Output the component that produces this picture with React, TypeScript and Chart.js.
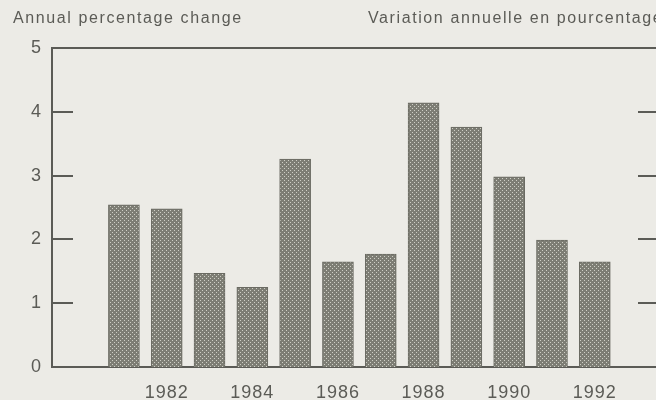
import React, { useEffect, useRef } from "react";
import { Chart, registerables } from "chart.js";

Chart.register(...registerables);

const years = [1981, 1982, 1983, 1984, 1985, 1986, 1987, 1988, 1989, 1990, 1991, 1992];
const values = [2.54, 2.48, 1.47, 1.25, 3.26, 1.65, 1.77, 4.14, 3.76, 2.98, 1.99, 1.65];
const xTickYears = [1982, 1984, 1986, 1988, 1990, 1992];
const yTickValues = [0, 1, 2, 3, 4, 5];
const innerTickValues = [1, 2, 3, 4];
const leftTitle = "Annual percentage change";
const rightTitle = "Variation annuelle en pourcentage";

const BG = "#ecebe6";
const INK = "#5b5b56";
const FONT = "'Liberation Sans', Arial, sans-serif";

function makePattern(): CanvasPattern | string {
  const c = document.createElement("canvas");
  c.width = 4;
  c.height = 4;
  const g = c.getContext("2d");
  if (!g) return "#7d7d74";
  g.fillStyle = "#7d7d74";
  g.fillRect(0, 0, 4, 4);
  g.fillStyle = "#cfcfc6";
  g.fillRect(0, 0, 1, 1);
  g.fillRect(2, 2, 1, 1);
  const p = g.createPattern(c, "repeat");
  return p || "#7d7d74";
}

export default function App() {
  const ref = useRef<HTMLCanvasElement | null>(null);

  useEffect(() => {
    if (!ref.current) return;
    const pattern = makePattern();

    const framePlugin = {
      id: "frame",
      beforeDraw(chart: any) {
        (chart.ctx as any).letterSpacing = "1px";
      },
      beforeDatasetsDraw(chart: any) {
        const { ctx, chartArea, scales } = chart;
        const { left, right, top, bottom } = chartArea;
        const y = scales.y;
        ctx.save();
        ctx.strokeStyle = INK;
        ctx.lineWidth = 2;
        ctx.beginPath();
        ctx.moveTo(left, top);
        ctx.lineTo(right, top);
        ctx.moveTo(left, top - 1);
        ctx.lineTo(left, bottom + 1);
        ctx.moveTo(left, bottom);
        ctx.lineTo(right, bottom);
        for (const v of innerTickValues) {
          const py = Math.round(y.getPixelForValue(v));
          ctx.moveTo(left, py);
          ctx.lineTo(left + 21, py);
          ctx.moveTo(right - 18, py);
          ctx.lineTo(right, py);
        }
        ctx.stroke();
        ctx.restore();
      },
      afterDraw(chart: any) {
        const ctx = chart.ctx;
        ctx.save();
        (ctx as any).letterSpacing = "1.6px";
        ctx.font = `16px ${FONT}`;
        ctx.fillStyle = INK;
        ctx.textBaseline = "middle";
        ctx.textAlign = "left";
        ctx.fillText(leftTitle, 13, 19);
        ctx.fillText(rightTitle, 368, 19);
        ctx.restore();
      },
    };

    const chart = new Chart(ref.current, {
      type: "bar",
      data: {
        datasets: [
          {
            data: years.map((yr, i) => ({ x: yr, y: values[i] })),
            backgroundColor: pattern as any,
            borderColor: "#6a6a62",
            borderWidth: 1,
            barThickness: 31,
          },
        ],
      },
      options: {
        responsive: false,
        animation: false,
        devicePixelRatio: 1,
        layout: { padding: { top: 48, left: 0, right: 0, bottom: 0 } },
        plugins: {
          legend: { display: false },
          tooltip: { enabled: false },
          title: { display: false },
        },
        scales: {
          x: {
            type: "linear",
            min: 1979.32,
            max: 1993.43,
            offset: false,
            grid: { display: false },
            border: { display: false },
            afterBuildTicks: (s: any) => {
              s.ticks = xTickYears.map((v) => ({ value: v }));
            },
            afterFit: (s: any) => {
              s.height = 33;
            },
            ticks: {
              autoSkip: false,
              maxRotation: 0,
              padding: 7,
              color: INK,
              font: { family: FONT, size: 18 },
              callback: (v: any) => String(v),
            },
          },
          y: {
            min: 0,
            max: 5,
            grid: { display: false, drawTicks: false },
            border: { display: false },
            afterBuildTicks: (s: any) => {
              s.ticks = yTickValues.map((v) => ({ value: v }));
            },
            afterFit: (s: any) => {
              s.width = 52;
            },
            ticks: {
              padding: 10,
              color: INK,
              font: { family: FONT, size: 18 },
              callback: (v: any) => String(v),
            },
          },
        },
      },
      plugins: [framePlugin],
    });

    return () => chart.destroy();
  }, []);

  return (
    <div
      style={{
        position: "fixed",
        left: 0,
        top: 0,
        width: 656,
        height: 400,
        background: BG,
        overflow: "hidden",
      }}
    >
      <canvas ref={ref} width={656} height={400} style={{ display: "block" }} />
    </div>
  );
}
